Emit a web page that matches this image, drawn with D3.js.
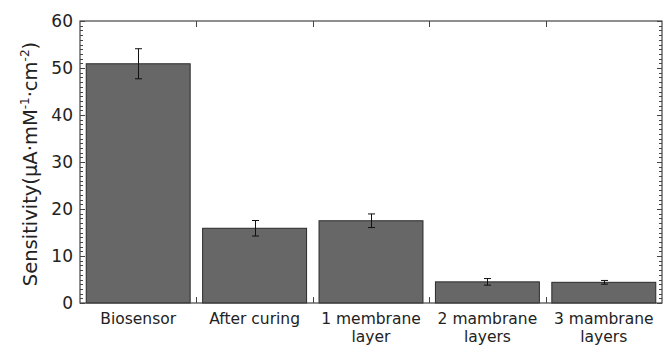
<!DOCTYPE html>
<html>
<head>
<meta charset="utf-8">
<script src="https://cdn.jsdelivr.net/npm/d3@7"></script>
<style>
  body { margin: 0; background: #fff; }
  text { font-family: "DejaVu Sans", sans-serif; fill: #222; }
</style>
</head>
<body>
<svg id="chart" width="663" height="345"></svg>
<script>
// categories, bar heights and error half-widths
var categories = ["Biosensor", "After curing", "1 membrane\nlayer", "2 mambrane\nlayers", "3 mambrane\nlayers"];
var sensitivity = [50.9, 15.9, 17.5, 4.5, 4.4];
var errors = [3.2, 1.65, 1.45, 0.7, 0.4];
var yTicks = [0, 10, 20, 30, 40, 50, 60];

var svg = d3.select("#chart");
var mLeft = 80, mRight = 662, mTop = 21, mBottom = 303;

var x = d3.scaleBand()
    .domain(d3.range(categories.length))
    .range([mLeft, mRight])
    .paddingInner(0.107)
    .paddingOuter(0.0535);

var y = d3.scaleLinear().domain([0, 60]).range([mBottom, mTop]);

var step = x.step();
var bounds = d3.range(1, categories.length).map(function (i) { return mLeft + i * step; });

// bars
svg.append("g").selectAll("rect")
    .data(sensitivity)
    .enter().append("rect")
    .attr("x", function (d, i) { return x(i); })
    .attr("y", function (d) { return y(d); })
    .attr("width", x.bandwidth())
    .attr("height", function (d) { return y(0) - y(d); })
    .attr("fill", "#676767")
    .attr("stroke", "#2a2a2a")
    .attr("stroke-width", 1);

// error bars
var eb = svg.append("g").attr("stroke", "#111").attr("stroke-width", 1);
sensitivity.forEach(function (d, i) {
    var cx = Math.round(x(i) + x.bandwidth() / 2) + 0.5;
    var e = errors[i];
    eb.append("line").attr("x1", cx).attr("x2", cx).attr("y1", y(d + e)).attr("y2", y(d - e));
    eb.append("line").attr("x1", cx - 3.5).attr("x2", cx + 3.5).attr("y1", y(d + e)).attr("y2", y(d + e));
    eb.append("line").attr("x1", cx - 3.5).attr("x2", cx + 3.5).attr("y1", y(d - e)).attr("y2", y(d - e));
});

// frame
svg.append("rect")
    .attr("x", mLeft).attr("y", mTop)
    .attr("width", mRight - mLeft).attr("height", mBottom - mTop)
    .attr("fill", "none").attr("stroke", "#444").attr("stroke-width", 1.2);

// y ticks left and right (inward)
var minor = d3.range(0, 61, 1);
var tg = svg.append("g").attr("stroke", "#444").attr("stroke-width", 1);
minor.forEach(function (v) {
    var len = v % 10 === 0 ? 5 : 3;
    var yy = Math.round(y(v)) + 0.5;
    tg.append("line").attr("x1", mLeft).attr("x2", mLeft + len).attr("y1", yy).attr("y2", yy);
    tg.append("line").attr("x1", mRight).attr("x2", mRight - len).attr("y1", yy).attr("y2", yy);
});

// x ticks at category boundaries, top and bottom
bounds.forEach(function (bx) {
    var xx = Math.round(bx) + 0.5;
    tg.append("line").attr("x1", xx).attr("x2", xx).attr("y1", mBottom).attr("y2", mBottom - 6);
    tg.append("line").attr("x1", xx).attr("x2", xx).attr("y1", mTop).attr("y2", mTop + 6);
});

// y tick labels
svg.append("g").selectAll("text")
    .data(yTicks)
    .enter().append("text")
    .attr("x", mLeft - 7)
    .attr("y", function (d) { return y(d); })
    .attr("dy", "0.36em")
    .attr("text-anchor", "end")
    .style("font-size", "17px")
    .text(function (d) { return d; });

// x category labels
var xl = svg.append("g").selectAll("text")
    .data(categories)
    .enter().append("text")
    .attr("text-anchor", "middle")
    .style("font-size", "15.5px")
    .attr("transform", function (d, i) { return "translate(" + (x(i) + x.bandwidth() / 2) + ",324)"; });
xl.selectAll("tspan")
    .data(function (d) { return d.split("\n"); })
    .enter().append("tspan")
    .attr("x", 0)
    .attr("dy", function (d, i) { return i === 0 ? 0 : 18; })
    .text(function (d) { return d; });

// y axis title
var yt = svg.append("text")
    .attr("transform", "translate(37,164) rotate(-90)")
    .attr("text-anchor", "middle")
    .style("font-size", "19.5px");
yt.append("tspan").text("Sensitivity(μA·mM");
yt.append("tspan").attr("dy", -8).style("font-size", "12px").text("-1");
yt.append("tspan").attr("dy", 8).text("·cm");
yt.append("tspan").attr("dy", -8).style("font-size", "12px").text("-2");
yt.append("tspan").attr("dy", 8).text(")");
</script>
</body>
</html>
